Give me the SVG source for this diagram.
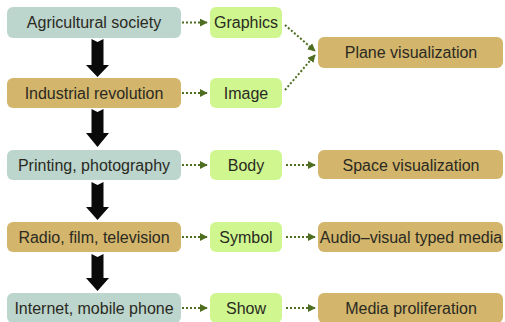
<svg xmlns="http://www.w3.org/2000/svg" width="505" height="322" viewBox="0 0 505 322">
  <defs>
    <marker id="dotHead" viewBox="0 0 10 10" refX="9" refY="5" markerWidth="4" markerHeight="4" orient="auto" markerUnits="strokeWidth">
      <path d="M0,0 L10,5 L0,10 z" fill="#4f6e22"/>
    </marker>
    <style>
      .era { fill: #bcd5cd; }
      .gold { fill: #d3b56c; }
      .form { fill: #cff68f; }
      text { font-family: "Liberation Sans", Arial, sans-serif; font-size: 16px; fill: #2a2a22; text-anchor: middle; }
      .dot { fill: none; stroke: #4f6e22; stroke-width: 2; stroke-dasharray: 2 2; marker-end: url(#dotHead); }
      .big { fill: #0a0a0a; }
    </style>
  </defs>
  <rect width="505" height="322" fill="#ffffff"/>

  <!-- era column -->
  <g id="agricultural"><rect class="era" x="7" y="7" width="174" height="31" rx="6"/><text x="94" y="28">Agricultural society</text></g>
  <g id="industrial"><rect class="gold" x="7" y="78" width="174" height="30" rx="6"/><text x="94" y="99">Industrial revolution</text></g>
  <g id="printing"><rect class="era" x="7" y="150" width="174" height="30" rx="6"/><text x="94" y="171">Printing, photography</text></g>
  <g id="radio"><rect class="gold" x="7" y="222" width="174" height="30" rx="6"/><text x="94" y="243">Radio, film, television</text></g>
  <g id="internet"><rect class="era" x="7" y="293" width="174" height="30" rx="6"/><text x="94" y="314">Internet, mobile phone</text></g>

  <!-- form column -->
  <g id="graphics"><rect class="form" x="210" y="7" width="72" height="31" rx="6"/><text x="246" y="28">Graphics</text></g>
  <g id="image"><rect class="form" x="210" y="78" width="72" height="30" rx="6"/><text x="246" y="99">Image</text></g>
  <g id="body"><rect class="form" x="210" y="150" width="72" height="30" rx="6"/><text x="246" y="171">Body</text></g>
  <g id="symbol"><rect class="form" x="210" y="222" width="72" height="30" rx="6"/><text x="246" y="243">Symbol</text></g>
  <g id="show"><rect class="form" x="210" y="293" width="72" height="30" rx="6"/><text x="246" y="314">Show</text></g>

  <!-- result column -->
  <g id="plane"><rect class="gold" x="318" y="37" width="185" height="31" rx="6"/><text x="411" y="58">Plane visualization</text></g>
  <g id="space"><rect class="gold" x="318" y="150" width="185" height="29" rx="6"/><text x="411" y="171">Space visualization</text></g>
  <g id="audiovisual"><rect class="gold" x="318" y="222" width="185" height="30" rx="6"/><text x="411" y="243">Audio–visual typed media</text></g>
  <g id="proliferation"><rect class="gold" x="318" y="293" width="185" height="30" rx="6"/><text x="411" y="314">Media proliferation</text></g>

  <g id="connectors">
    <!-- progression arrows, notched tail -->
    <path class="big" d="M91.5,39 L97.5,42 L103.5,39 V65 H109 L97.5,77 L86,65 H91.5 Z"/>
    <path class="big" d="M91.5,109 L97.5,112 L103.5,109 V133 H109 L97.5,147 L86,133 H91.5 Z"/>
    <path class="big" d="M91.5,182 L97.5,185 L103.5,182 V207 H109 L97.5,220 L86,207 H91.5 Z"/>
    <path class="big" d="M91.5,254 L97.5,257 L103.5,254 V278 H109 L97.5,291 L86,278 H91.5 Z"/>

    <!-- era to form -->
    <path class="dot" d="M182,22.5 H207"/>
    <path class="dot" d="M182,93 H207"/>
    <path class="dot" d="M182,165 H207"/>
    <path class="dot" d="M182,237 H207"/>
    <path class="dot" d="M182,308 H207"/>

    <!-- form to result -->
    <path class="dot" d="M285,25 L315,51"/>
    <path class="dot" d="M285,90 L315,55"/>
    <path class="dot" d="M286,165 H315"/>
    <path class="dot" d="M286,237 H315"/>
    <path class="dot" d="M286,308 H315"/>
  </g>
</svg>
